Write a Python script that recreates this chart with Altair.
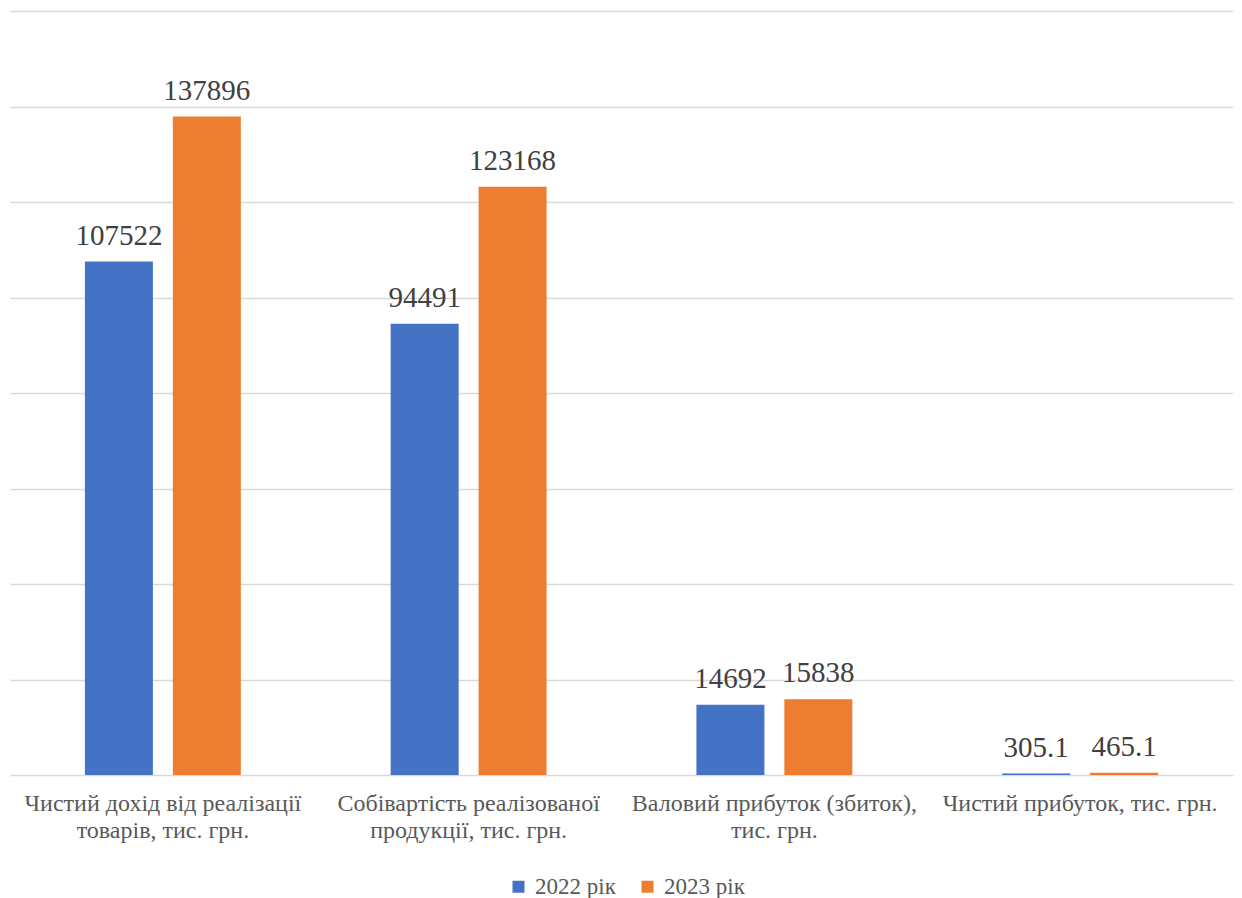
import altair as alt
import pandas as pd

categories = [
    "Чистий дохід від реалізації|товарів, тис. грн.",
    "Собівартість реалізованої|продукції, тис. грн.",
    "Валовий прибуток (збиток),|тис. грн.",
    "Чистий прибуток, тис. грн.",
]
series = ["2022 рік", "2023 рік"]
values_2022 = [107522, 94491, 14692, 305.1]
values_2023 = [137896, 123168, 15838, 465.1]
labels_2022 = ["107522", "94491", "14692", "305.1"]
labels_2023 = ["137896", "123168", "15838", "465.1"]
colors = ["#4472C4", "#ED7D31"]
y_ticks = [0, 20000, 40000, 60000, 80000, 100000, 120000, 140000, 160000]

rows = []
for c, v, l in zip(categories, values_2022, labels_2022):
    rows.append({"cat": c, "series": series[0], "value": v, "label": l})
for c, v, l in zip(categories, values_2023, labels_2023):
    rows.append({"cat": c, "series": series[1], "value": v, "label": l})
df = pd.DataFrame(rows)

FONT = "'Times New Roman', 'Liberation Serif', 'DejaVu Serif', serif"

x = alt.X(
    "cat:N",
    sort=categories,
    title=None,
    scale=alt.Scale(paddingInner=0, paddingOuter=0),
    axis=alt.Axis(
        labelExpr="split(datum.value, '|')",
        labelAngle=0,
        labelFont=FONT,
        labelFontSize=24,
        labelColor="#595959",
        labelPadding=16,
        labelLineHeight=27,
        ticks=False,
        domain=False,
        grid=False,
        labelLimit=400,
    ),
)
xo = alt.XOffset(
    "series:N",
    sort=series,
    scale=alt.Scale(paddingInner=0.227, paddingOuter=0.852),
)
y = alt.Y(
    "value:Q",
    title=None,
    scale=alt.Scale(domain=[0, 160000], nice=False),
    axis=alt.Axis(
        values=y_ticks,
        labels=False,
        ticks=False,
        domain=False,
        grid=True,
        gridColor="#d9d9d9",
        gridWidth=1.5,
    ),
)

bars = alt.Chart(df).mark_bar().encode(
    x=x,
    xOffset=xo,
    y=y,
    color=alt.Color(
        "series:N",
        sort=series,
        scale=alt.Scale(domain=series, range=colors),
        legend=alt.Legend(
            title=None,
            orient="none",
            legendX=497,
            legendY=864,
            direction="horizontal",
            symbolType="square",
            symbolSize=144,
            symbolStrokeWidth=0,
            labelFont=FONT,
            labelFontSize=23,
            labelColor="#595959",
            labelOffset=5,
            columnPadding=20,
        ),
    ),
)

text = alt.Chart(df).mark_text(
    font=FONT, fontSize=29, color="#404040", baseline="alphabetic", dy=-17
).encode(
    x=alt.X("cat:N", sort=categories),
    xOffset=alt.XOffset("series:N", sort=series),
    y=alt.Y("value:Q"),
    text="label:N",
)

chart = (
    alt.layer(bars, text)
    .properties(
        width=1223,
        height=764,
        autosize=alt.AutoSizeParams(type="none"),
        padding={"left": 10, "top": 11, "right": 9, "bottom": 123},
        background="white",
    )
    .configure_view(stroke=None)
)

chart.save("out.html", embed_options={"renderer": "svg", "actions": False})
